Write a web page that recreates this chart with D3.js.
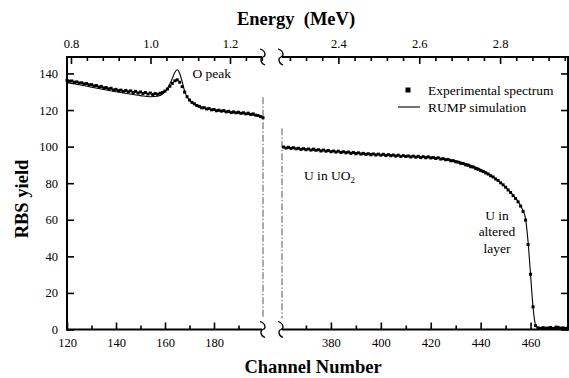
<!DOCTYPE html>
<html><head><meta charset="utf-8">
<script src="https://cdn.jsdelivr.net/npm/d3@7"></script>
<style>
body{margin:0;background:#fff;}
svg text{font-family:"Liberation Serif","Tinos","Times New Roman",serif !important;}
</style></head>
<body><svg id="c" width="569" height="378"></svg>
<script>
// ---------- data ----------
const leftChannels = d3.range(120, 201);          // 120..200
const leftExp = [136.2,135.8,135.9,135.2,135.4,134.8,134.9,134.3,134.5,133.8,
 133.9,133.2,133.4,132.6,132.9,132.1,132.3,131.6,131.9,131.0,
 131.3,130.6,130.9,130.2,130.7,130.0,130.5,129.6,130.2,129.3,
 129.9,129.0,129.6,128.7,129.3,128.5,129.0,128.6,129.2,129.6,
 130.4,131.5,133.0,134.6,136.0,136.5,135.2,132.8,129.8,127.3,
 125.5,124.2,123.4,122.5,122.0,121.2,121.3,120.6,120.8,120.1,
 120.3,119.6,119.9,119.4,119.7,119.0,119.3,118.6,119.0,118.5,
 118.8,118.2,118.5,117.9,118.3,117.6,117.9,117.2,117.0,116.4,115.8];
const leftSimCh = [120,125,130,135,140,145,150,154,157,158,159,160,161,162,163,164,165,166,167,168,169,170,171,172,175,180,185,190,195,198,200];
const leftSim   = [135.0,133.8,132.5,131.2,130.0,128.9,127.9,127.3,127.5,128.0,128.8,130.0,131.8,134.2,137.3,140.5,142.0,140.0,135.5,130.5,127.2,125.2,123.9,123.0,121.4,120.0,119.0,118.3,117.5,116.8,116.0];

const rightChannels = d3.range(361, 476);         // 361..475
const rightExp = [99.8,99.2,99.6,99.0,99.4,98.8,99.1,98.5,98.9,98.3,
 98.7,98.1,98.6,98.0,98.3,97.6,98.1,97.5,97.9,97.2,
 97.6,97.0,97.5,96.8,97.2,96.6,97.0,96.3,96.8,96.1,
 96.6,95.9,96.3,95.8,96.1,95.5,96.0,95.4,95.9,95.3,
 95.8,95.1,95.6,95.0,95.4,94.8,95.3,94.6,95.1,94.6,
 94.9,94.3,94.8,94.2,94.7,94.0,94.5,93.9,94.4,93.8,
 94.1,93.5,93.9,93.2,93.4,92.8,93.0,92.3,92.3,91.7,
 91.5,90.9,90.7,90.0,89.8,89.0,88.8,88.0,87.6,86.9,
 86.4,85.6,85.0,84.1,83.4,82.3,81.5,80.2,79.1,77.8,
 76.3,74.9,73.2,71.6,69.8,67.5,64.6,59.8,46.5,30.2,
 12.4,2.1,0.9,0.6,1.0,0.7,0.8,1.1,0.6,0.9,
 1.2,0.7,0.9,0.6,0.8];
const rightSimCh = [361,365,370,375,380,385,390,395,400,405,410,415,420,425,430,435,440,445,450,453,455,456,457,458,459,460,461,462,463,468,475];
const rightSim   = [99.6,99.1,98.6,98.1,97.6,97.1,96.6,96.1,95.7,95.3,94.9,94.5,94.1,93.4,92.2,90.3,87.6,83.6,77.8,73.5,70.0,67.8,65.0,60.5,48.0,30.0,12.0,2.5,1.0,0.9,0.8];

const leftMajor = [120,140,160,180], leftMinor = [130,150,170,190];
const rightMajor = [380,400,420,440,460], rightMinor = [370,390,410,430,450,470];
const yTicks = [0,20,40,60,80,100,120,140];
const energyLeftDomain = [0.790, 1.283], energyRightDomain = [2.258, 2.968];
const eLeftMajor = [0.8,1.0,1.2], eLeftMinor = [0.84,0.88,0.92,0.96,1.04,1.08,1.12,1.16,1.24,1.28];
const eRightMajor = [2.4,2.6,2.8], eRightMinor = [2.28,2.32,2.36,2.44,2.48,2.52,2.56,2.64,2.68,2.72,2.76,2.84,2.88,2.92,2.96];

// ---------- layout ----------
const FONT = '"Liberation Serif","Tinos","Times New Roman",serif';
const svg = d3.select("#c");
const X0=67, XB1=263, XB2=281, X1=568, YT=57, YB=329.5;
const xL = d3.scaleLinear().domain([120,200]).range([X0,XB1]);
const xR = d3.scaleLinear().domain([360,475]).range([XB2,X1]);
const eL = d3.scaleLinear().domain(energyLeftDomain).range([X0,XB1]);
const eR = d3.scaleLinear().domain(energyRightDomain).range([XB2,X1]);
const y = d3.scaleLinear().domain([0,149]).range([YB,YT]);
const fmt = d3.format(".1f");

function styleAxis(g){
  g.attr("font-family",FONT);
  g.select(".domain").remove();
  g.selectAll("line").attr("stroke","#000").attr("stroke-width",1.6);
  g.selectAll("text").attr("font-family",FONT).attr("font-size",12.5).attr("fill","#000");
}
// bottom axes
svg.append("g").attr("transform",`translate(0,${YB})`).call(d3.axisBottom(xL).tickValues(leftMajor).tickSize(-7).tickPadding(9)).call(styleAxis);
svg.append("g").attr("transform",`translate(0,${YB})`).call(d3.axisBottom(xL).tickValues(leftMinor).tickSize(-4).tickFormat("")).call(styleAxis);
svg.append("g").attr("transform",`translate(0,${YB})`).call(d3.axisBottom(xR).tickValues(rightMajor).tickSize(-7).tickPadding(9)).call(styleAxis);
svg.append("g").attr("transform",`translate(0,${YB})`).call(d3.axisBottom(xR).tickValues(rightMinor).tickSize(-4).tickFormat("")).call(styleAxis);
// top axes
svg.append("g").attr("transform",`translate(0,${YT})`).call(d3.axisTop(eL).tickValues(eLeftMajor).tickSize(-7).tickPadding(9).tickFormat(fmt)).call(styleAxis);
svg.append("g").attr("transform",`translate(0,${YT})`).call(d3.axisTop(eL).tickValues(eLeftMinor).tickSize(-4).tickFormat("")).call(styleAxis);
svg.append("g").attr("transform",`translate(0,${YT})`).call(d3.axisTop(eR).tickValues(eRightMajor).tickSize(-7).tickPadding(9).tickFormat(fmt)).call(styleAxis);
svg.append("g").attr("transform",`translate(0,${YT})`).call(d3.axisTop(eR).tickValues(eRightMinor).tickSize(-4).tickFormat("")).call(styleAxis);
// y axes
svg.append("g").attr("transform",`translate(${X0},0)`).call(d3.axisLeft(y).tickValues(yTicks).tickSize(-7).tickPadding(9)).call(styleAxis);
svg.append("g").attr("transform",`translate(${X1},0)`).call(d3.axisRight(y).tickValues(yTicks).tickSize(-7).tickFormat("")).call(styleAxis);

// frame lines
const frame = svg.append("g").attr("stroke","#000").attr("stroke-width",2).attr("fill","none");
frame.append("line").attr("x1",X0).attr("x2",X0).attr("y1",YT).attr("y2",YB+1);
frame.append("line").attr("x1",X1).attr("x2",X1).attr("y1",YT).attr("y2",YB+1);
[YT,YB].forEach(yy=>{
  frame.append("line").attr("x1",X0-1).attr("x2",XB1-1).attr("y1",yy).attr("y2",yy);
  frame.append("line").attr("x1",XB2+1).attr("x2",X1+1).attr("y1",yy).attr("y2",yy);
});
// break squiggles
const sq = svg.append("g").attr("stroke","#000").attr("stroke-width",1.3).attr("fill","none");
[YT,YB].forEach(yy=>{
  [XB1, XB2].forEach(xx=>{
    sq.append("path").attr("d",`M${xx-3},${yy-8} C${xx+3},${yy-6} ${xx+3},${yy-1} ${xx},${yy} C${xx-3},${yy+1} ${xx-3},${yy+6} ${xx+2},${yy+8}`);
  });
});
// dash-dot separator lines
svg.append("line").attr("x1",XB1).attr("x2",XB1).attr("y1",y(127)).attr("y2",YB-11)
  .attr("stroke","#444").attr("stroke-width",0.9).attr("stroke-dasharray","7,2,1.5,2");
svg.append("line").attr("x1",XB2+1).attr("x2",XB2+1).attr("y1",y(110)).attr("y2",YB-11)
  .attr("stroke","#444").attr("stroke-width",0.9).attr("stroke-dasharray","7,2,1.5,2");

// simulation lines
const lineL = d3.line().x((d,i)=>xL(leftSimCh[i])).y(d=>y(d)).curve(d3.curveMonotoneX);
const lineR = d3.line().x((d,i)=>xR(rightSimCh[i])).y(d=>y(d)).curve(d3.curveMonotoneX);
svg.append("path").attr("d",lineL(leftSim)).attr("fill","none").attr("stroke","#000").attr("stroke-width",1.1);
svg.append("path").attr("d",lineR(rightSim)).attr("fill","none").attr("stroke","#000").attr("stroke-width",1.1);

// experimental points
const S=3;
svg.append("g").selectAll("rect").data(leftExp).join("rect")
  .attr("x",(d,i)=>xL(leftChannels[i])-S/2).attr("y",d=>y(d)-S/2).attr("width",S).attr("height",S).attr("fill","#000");
svg.append("g").selectAll("rect").data(rightExp).join("rect")
  .attr("x",(d,i)=>xR(rightChannels[i])-S/2).attr("y",d=>y(d)-S/2).attr("width",S).attr("height",S).attr("fill","#000");

// legend
const T = (x,yy,size)=>svg.append("text").attr("x",x).attr("y",yy).attr("font-size",size).attr("font-family",FONT).attr("fill","#000");
svg.append("rect").attr("x",405.5).attr("y",87.5).attr("width",5).attr("height",5).attr("fill","#000");
T(428,94.5,13.5).text("Experimental spectrum");
svg.append("line").attr("x1",398).attr("x2",420).attr("y1",107).attr("y2",107).attr("stroke","#000").attr("stroke-width",1.1);
T(428,111.5,13.5).text("RUMP simulation");

// annotations
T(192.5,77.5,13.5).text("O peak");
const u = T(304,180,13.5);
u.append("tspan").text("U in UO");
u.append("tspan").attr("font-size",9).attr("dy",3).text("2");
["U in","altered","layer"].forEach((t,i)=>{
  T(497,220+i*16.3,13.5).attr("text-anchor","middle").text(t);
});

// titles
T(296,25,18.5).attr("text-anchor","middle").attr("font-weight","bold").attr("xml:space","preserve").text("Energy  (MeV)");
T(313,373,18.5).attr("text-anchor","middle").attr("font-weight","bold").text("Channel Number");
svg.append("text").attr("transform","translate(28,199) rotate(-90)").attr("text-anchor","middle").attr("font-size",18.5).attr("font-family",FONT).attr("font-weight","bold").text("RBS yield");
</script></body></html>
